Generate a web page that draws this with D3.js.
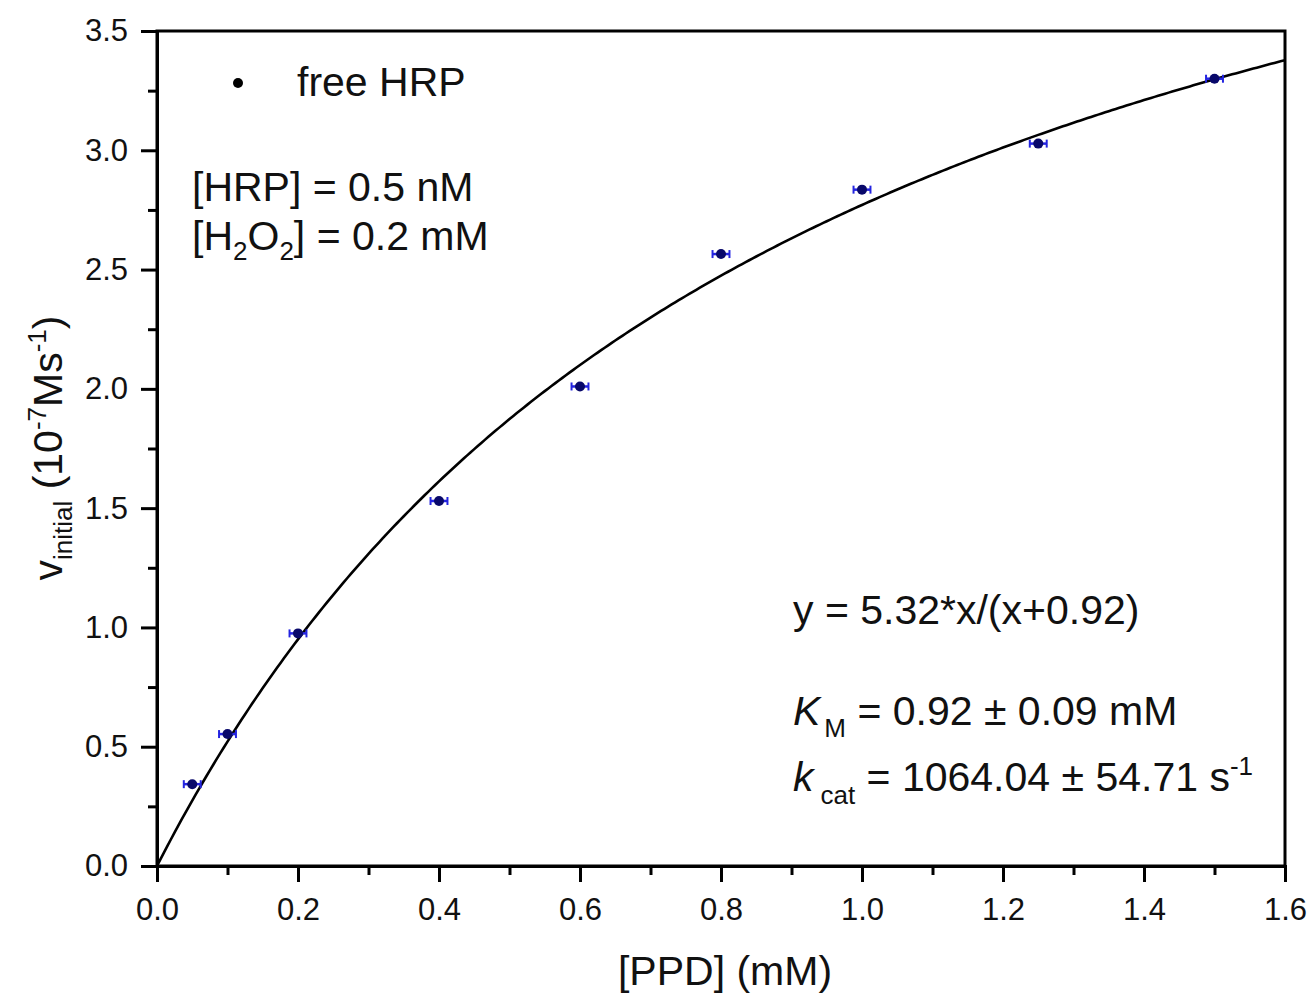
<!DOCTYPE html>
<html>
<head>
<meta charset="utf-8">
<script src="https://cdn.jsdelivr.net/npm/d3@7"></script>
<style>
  html, body { margin: 0; padding: 0; background: #ffffff; }
  svg { display: block; font-family: "Liberation Sans", Arial, sans-serif; }
</style>
</head>
<body>
<svg id="chart" width="1311" height="994"></svg>
<script>
// Initial rate of free HRP vs. PPD concentration, with Michaelis–Menten fit
const ppd = [0.05, 0.1, 0.2, 0.4, 0.6, 0.8, 1.0, 1.25, 1.5];
const vInitial = [0.343, 0.553, 0.975, 1.530, 2.010, 2.565, 2.835, 3.028, 3.300];
const xErr = [0.012, 0.012, 0.012, 0.012, 0.012, 0.012, 0.012, 0.012, 0.012];
const vmax = 5.32;
const km = 0.92;
const xTicks = [0.0, 0.2, 0.4, 0.6, 0.8, 1.0, 1.2, 1.4, 1.6];
const yTicks = [0.0, 0.5, 1.0, 1.5, 2.0, 2.5, 3.0, 3.5];
const xMinor = [0.1, 0.3, 0.5, 0.7, 0.9, 1.1, 1.3, 1.5];
const yMinor = [0.25, 0.75, 1.25, 1.75, 2.25, 2.75, 3.25];

const svg = d3.select("#chart");
const plotL = 157, plotR = 1285, plotT = 31, plotB = 866;
const ink = "#111";
const labelSize = 41, subSize = 26, tickSize = 31;

const x = d3.scaleLinear().domain([0, 1.6]).range([plotL, plotR]);
const y = d3.scaleLinear().domain([0, 3.5]).range([plotB, plotT]);

// axes: major + minor ticks, pointing outward
svg.append("g").attr("transform", `translate(0,${plotB})`)
  .call(d3.axisBottom(x).tickValues(xTicks).tickFormat(d3.format(".1f")).tickSize(16).tickPadding(16));
svg.append("g").attr("transform", `translate(0,${plotB})`)
  .call(d3.axisBottom(x).tickValues(xMinor).tickFormat("").tickSize(9))
  .call(g => g.select(".domain").remove());

svg.append("g").attr("transform", `translate(${plotL},0)`)
  .call(d3.axisLeft(y).tickValues(yTicks).tickFormat(d3.format(".1f")).tickSize(16).tickPadding(13));
svg.append("g").attr("transform", `translate(${plotL},0)`)
  .call(d3.axisLeft(y).tickValues(yMinor).tickFormat("").tickSize(9))
  .call(g => g.select(".domain").remove());

svg.selectAll(".tick line").attr("stroke", "#000").attr("stroke-width", 3);
svg.selectAll(".domain").attr("stroke", "#000").attr("stroke-width", 3);
svg.selectAll(".tick text").attr("font-size", tickSize).attr("fill", ink)
  .attr("font-family", "'Liberation Sans', Arial, sans-serif");

// frame
svg.append("rect")
  .attr("x", plotL).attr("y", plotT)
  .attr("width", plotR - plotL).attr("height", plotB - plotT)
  .attr("fill", "none").attr("stroke", "#000").attr("stroke-width", 3);

// fitted curve
const fit = d3.range(0, 1.6001, 0.005).map(v => [v, vmax * v / (v + km)]);
svg.append("path")
  .datum(fit)
  .attr("fill", "none").attr("stroke", "#000").attr("stroke-width", 2.6)
  .attr("d", d3.line().x(d => x(d[0])).y(d => y(d[1])));

// error bars and points
const pts = svg.append("g");
ppd.forEach((p, i) => {
  const cy = y(vInitial[i]);
  pts.append("line")
    .attr("x1", x(p - xErr[i])).attr("x2", x(p + xErr[i]))
    .attr("y1", cy).attr("y2", cy)
    .attr("stroke", "#2424e0").attr("stroke-width", 2.5);
  pts.append("line")
    .attr("x1", x(p - xErr[i])).attr("x2", x(p - xErr[i]))
    .attr("y1", cy - 4).attr("y2", cy + 4)
    .attr("stroke", "#2424e0").attr("stroke-width", 2);
  pts.append("line")
    .attr("x1", x(p + xErr[i])).attr("x2", x(p + xErr[i]))
    .attr("y1", cy - 4).attr("y2", cy + 4)
    .attr("stroke", "#2424e0").attr("stroke-width", 2);
});
pts.selectAll("circle").data(ppd).join("circle")
  .attr("cx", d => x(d)).attr("cy", (d, i) => y(vInitial[i]))
  .attr("r", 5).attr("fill", "#08086a");

// legend
svg.append("circle").attr("cx", 238).attr("cy", 83).attr("r", 5).attr("fill", "#000");
svg.append("text").attr("x", 297).attr("y", 96).attr("font-size", labelSize).attr("fill", ink).text("free HRP");

// conditions
svg.append("text").attr("x", 192).attr("y", 201).attr("font-size", labelSize).attr("fill", ink).text("[HRP] = 0.5 nM");
const h2o2 = svg.append("text").attr("x", 192).attr("y", 250).attr("font-size", labelSize).attr("fill", ink);
h2o2.append("tspan").text("[H");
h2o2.append("tspan").attr("font-size", subSize).attr("dy", 10).text("2");
h2o2.append("tspan").attr("dy", -10).text("O");
h2o2.append("tspan").attr("font-size", subSize).attr("dy", 10).text("2");
h2o2.append("tspan").attr("dy", -10).text("] = 0.2 mM");

// fit parameters
svg.append("text").attr("x", 793).attr("y", 624).attr("font-size", labelSize).attr("fill", ink).text("y = 5.32*x/(x+0.92)");
const kmText = svg.append("text").attr("x", 793).attr("y", 725).attr("font-size", labelSize).attr("fill", ink);
kmText.append("tspan").attr("font-style", "italic").text("K");
kmText.append("tspan").attr("font-size", subSize).attr("dx", 4).attr("dy", 12).text("M");
kmText.append("tspan").attr("dy", -12).text(" = 0.92 ± 0.09 mM");
const kcatText = svg.append("text").attr("x", 793).attr("y", 791).attr("font-size", labelSize).attr("fill", ink);
kcatText.append("tspan").attr("font-style", "italic").text("k");
kcatText.append("tspan").attr("font-size", subSize).attr("dx", 7).attr("dy", 13).text("cat");
kcatText.append("tspan").attr("dy", -13).text(" = 1064.04 ± 54.71 s");
kcatText.append("tspan").attr("font-size", subSize).attr("dy", -16).text("-1");

// axis titles
svg.append("text").attr("x", 725).attr("y", 985).attr("text-anchor", "middle")
  .attr("font-size", labelSize).attr("fill", ink).text("[PPD] (mM)");

const yt = svg.append("text")
  .attr("transform", "translate(62,448) rotate(-90)")
  .attr("text-anchor", "middle").attr("font-size", labelSize).attr("fill", ink);
yt.append("tspan").text("v");
yt.append("tspan").attr("font-size", subSize).attr("dy", 10).text("initial");
yt.append("tspan").attr("dy", -10).text(" (10");
yt.append("tspan").attr("font-size", subSize).attr("dy", -16).text("-7");
yt.append("tspan").attr("dy", 16).text("Ms");
yt.append("tspan").attr("font-size", subSize).attr("dy", -16).text("-1");
yt.append("tspan").attr("dy", 16).text(")");
</script>
</body>
</html>
